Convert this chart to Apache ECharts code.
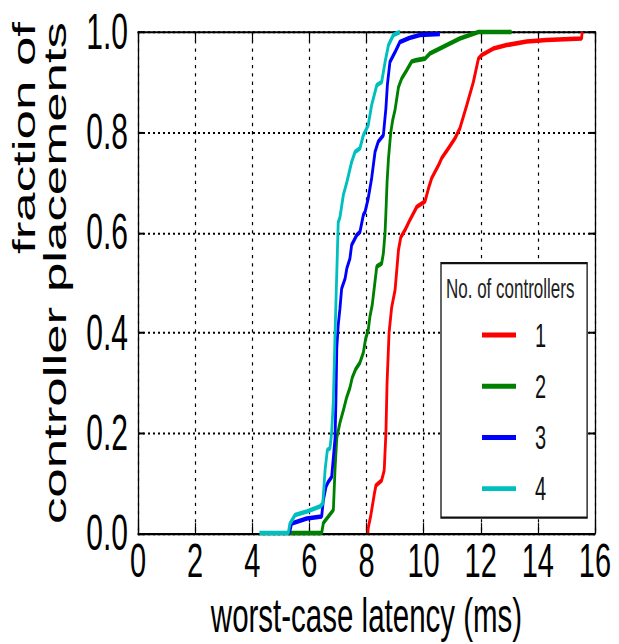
<!DOCTYPE html>
<html>
<head>
<meta charset="utf-8">
<script src="https://cdn.jsdelivr.net/npm/echarts@6/dist/echarts.min.js"></script>
<style>
  html, body { margin: 0; padding: 0; background: #fff; overflow: hidden; }
  #wrap { width: 619px; height: 644px; overflow: hidden; }
  /* the figure is laid out at 619x390 and stretched vertically to fill the page */
  #chart { width: 619px; height: 390px; transform: scaleY(1.6513); transform-origin: 0 0; }
</style>
</head>
<body>
<div id="wrap"><div id="chart"></div></div>
<script>
// CDF of worst-case latency, one curve per number of controllers
const seriesNames = ['1', '2', '3', '4'];
const seriesColors = ['#ff0000', '#008000', '#0000ff', '#00bfbf'];

const lat1 = [8.05, 8.06, 8.15, 8.28, 8.33, 8.53, 8.62, 8.68, 8.72, 8.79, 8.88, 9.00, 9.12, 9.20, 9.35, 9.52, 9.76, 10.05, 10.17, 10.28, 10.52, 10.63, 10.87, 11.10, 11.27, 11.51, 11.74, 11.92, 12.03, 12.44, 12.91, 13.61, 14.31, 15.53, 15.55];
const frac1 = [0.000, 0.010, 0.035, 0.080, 0.095, 0.105, 0.125, 0.200, 0.300, 0.400, 0.450, 0.485, 0.565, 0.590, 0.605, 0.625, 0.651, 0.662, 0.688, 0.708, 0.734, 0.748, 0.768, 0.788, 0.808, 0.854, 0.900, 0.947, 0.954, 0.967, 0.974, 0.981, 0.984, 0.987, 1.000];

const lat2 = [5.30, 6.43, 6.49, 6.84, 6.90, 6.96, 7.07, 7.19, 7.30, 7.42, 7.50, 7.62, 7.77, 7.89, 7.97, 8.06, 8.12, 8.20, 8.30, 8.36, 8.53, 8.59, 8.65, 8.68, 8.72, 8.77, 8.85, 8.92, 9.00, 9.12, 9.23, 9.41, 9.58, 9.76, 10.05, 10.22, 10.57, 10.92, 11.27, 11.62, 11.92, 13.08];
const frac2 = [0.000, 0.000, 0.020, 0.046, 0.130, 0.190, 0.220, 0.245, 0.270, 0.290, 0.310, 0.327, 0.340, 0.360, 0.388, 0.405, 0.432, 0.455, 0.503, 0.532, 0.538, 0.558, 0.600, 0.640, 0.700, 0.748, 0.800, 0.825, 0.845, 0.890, 0.907, 0.924, 0.941, 0.944, 0.947, 0.957, 0.967, 0.977, 0.987, 0.994, 1.000, 1.000];

const lat3 = [5.30, 5.38, 5.91, 6.43, 6.49, 6.58, 6.66, 6.78, 6.90, 6.93, 6.96, 7.01, 7.07, 7.13, 7.25, 7.31, 7.42, 7.48, 7.66, 7.77, 7.89, 7.95, 8.06, 8.18, 8.30, 8.41, 8.59, 8.68, 8.73, 8.82, 9.00, 9.17, 9.50, 9.87, 10.57];
const frac3 = [0.000, 0.019, 0.029, 0.033, 0.066, 0.092, 0.102, 0.112, 0.190, 0.265, 0.370, 0.415, 0.448, 0.488, 0.508, 0.528, 0.548, 0.575, 0.595, 0.601, 0.635, 0.641, 0.668, 0.708, 0.761, 0.781, 0.794, 0.848, 0.894, 0.940, 0.960, 0.980, 0.988, 0.994, 0.996];

const lat4 = [4.25, 5.26, 5.32, 5.50, 5.91, 6.37, 6.47, 6.55, 6.63, 6.72, 6.78, 6.84, 6.90, 7.01, 7.07, 7.19, 7.31, 7.48, 7.60, 7.77, 7.89, 8.06, 8.18, 8.36, 8.53, 8.65, 8.77, 8.94, 9.17];
const frac4 = [0.000, 0.000, 0.019, 0.036, 0.043, 0.053, 0.059, 0.126, 0.166, 0.169, 0.200, 0.265, 0.400, 0.620, 0.630, 0.675, 0.700, 0.741, 0.761, 0.768, 0.794, 0.814, 0.854, 0.894, 0.900, 0.940, 0.974, 0.994, 1.000];

const xTicks = [0, 2, 4, 6, 8, 10, 12, 14, 16];
const yTicks = [0.0, 0.2, 0.4, 0.6, 0.8, 1.0];

const xTitle = 'worst-case latency (ms)';
const yTitle = 'fraction of\ncontroller placements';
const legendTitle = 'No. of controllers';

const FONT = '"Liberation Sans", Arial, Helvetica, sans-serif';
const lats = [lat1, lat2, lat3, lat4];
const fracs = [frac1, frac2, frac3, frac4];

const zip = (xs, ys) => xs.map((x, i) => [x, ys[i]]);

const tickStyle = { show: true, inside: true, length: 6, lineStyle: { color: '#000', width: 1.2 } };
const lineStyle = { show: true, onZero: false, lineStyle: { color: '#000', width: 1.3 } };
const gridDots = { show: true, lineStyle: { color: '#000', width: 1.2, type: [2, 3] } };

const chart = echarts.init(document.getElementById('chart'), null, { renderer: 'svg' });

chart.setOption({
  animation: false,
  backgroundColor: '#fff',
  grid: { left: 138, right: 24, top: 19.4, bottom: 67.2, containLabel: false, outerBoundsMode: 'none' },
  title: {
    text: legendTitle,
    left: 446, top: 166, padding: 0, z: 10,
    textStyle: { fontFamily: FONT, fontSize: 17, fontWeight: 'normal', color: '#222', lineHeight: 17 }
  },
  legend: {
    data: seriesNames,
    orient: 'vertical',
    left: 441, top: 159.3,
    padding: [33.6, 41, 7.6, 41],
    itemGap: 11,
    itemWidth: 34, itemHeight: 3,
    icon: 'rect',
    backgroundColor: '#fff',
    borderColor: '#111', borderWidth: 1.3, borderRadius: 0,
    selectedMode: false,
    textStyle: { fontFamily: FONT, fontSize: 20, lineHeight: 20, color: '#111', padding: [0, 0, 0, 14] }
  },
  xAxis: [
    {
      type: 'value', position: 'bottom', min: xTicks[0], max: xTicks[xTicks.length - 1], interval: 2,
      axisLine: lineStyle, axisTick: tickStyle, splitLine: gridDots,
      axisLabel: { fontFamily: FONT, fontSize: 29, lineHeight: 29, color: '#000', margin: 2 },
      name: xTitle, nameLocation: 'middle', nameGap: 35.4, nameMoveOverlap: false,
      nameTextStyle: { fontFamily: FONT, fontSize: 29.5, lineHeight: 29.5, color: '#000' }
    },
    {
      type: 'value', position: 'top', min: xTicks[0], max: xTicks[xTicks.length - 1], interval: 2,
      axisLine: lineStyle, axisTick: tickStyle, splitLine: { show: false }, axisLabel: { show: false }
    }
  ],
  yAxis: [
    {
      type: 'value', position: 'left', min: yTicks[0], max: yTicks[yTicks.length - 1], interval: 0.2,
      axisLine: lineStyle, axisTick: tickStyle, splitLine: gridDots,
      axisLabel: { fontFamily: FONT, fontSize: 30, color: '#000', margin: 10, formatter: v => v.toFixed(1) }
    },
    {
      type: 'value', position: 'right', min: yTicks[0], max: yTicks[yTicks.length - 1], interval: 0.2,
      axisLine: lineStyle, axisTick: tickStyle, splitLine: { show: false }, axisLabel: { show: false }
    }
  ],
  graphic: [
    {
      type: 'text', x: 8, y: 13.3, rotation: Math.PI / 2, z: 10,
      style: {
        text: yTitle, fill: '#000', font: '32px ' + FONT, lineHeight: 31,
        align: 'right', verticalAlign: 'top', textAlign: 'right', textVerticalAlign: 'top'
      }
    }
  ],
  series: seriesNames.map((name, i) => ({
    name: name,
    type: 'line',
    xAxisIndex: 0, yAxisIndex: 0,
    data: zip(lats[i], fracs[i]),
    symbol: 'none',
    clip: false,
    color: seriesColors[i],
    lineStyle: { color: seriesColors[i], width: 2.8 },
    z: 3 + i
  }))
});
</script>
</body>
</html>
